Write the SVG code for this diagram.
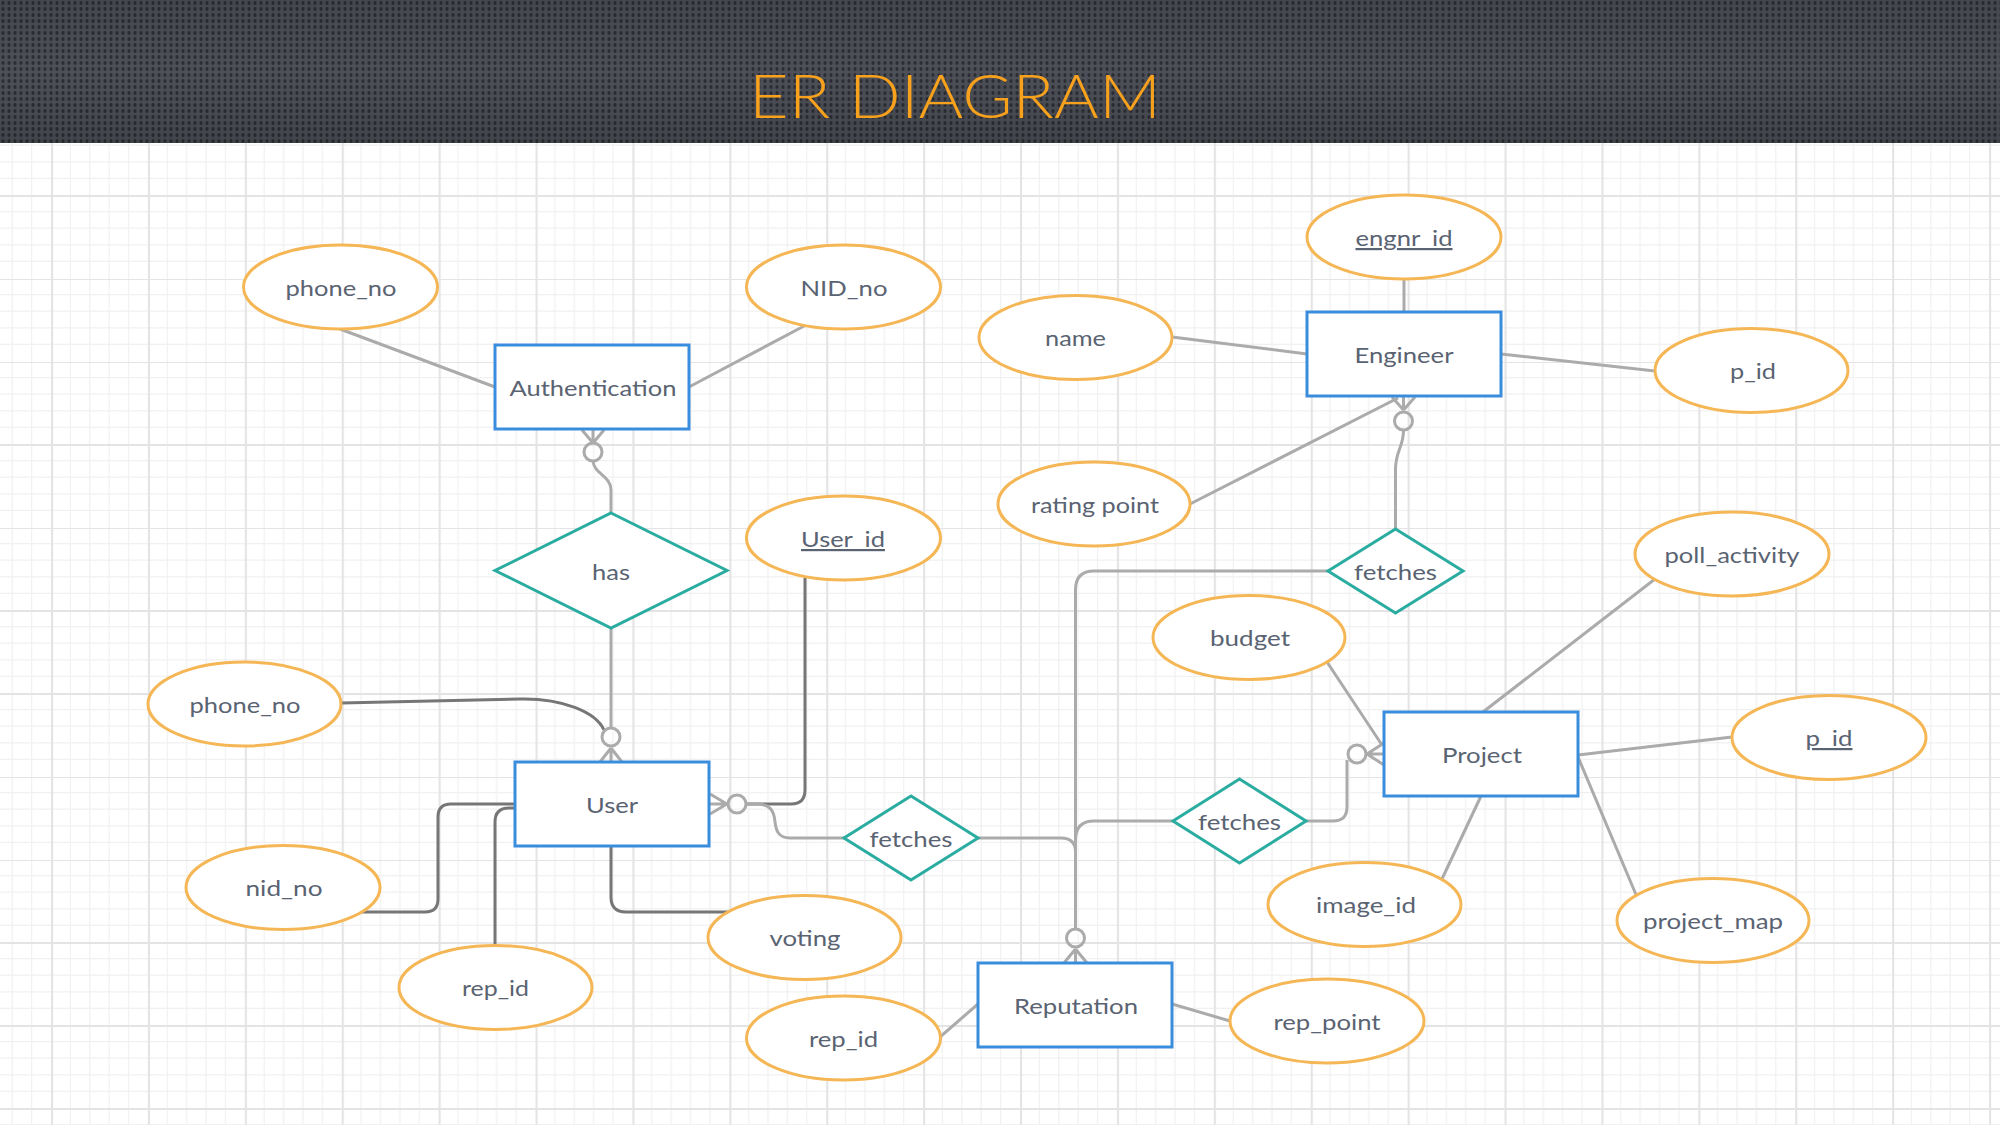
<svg xmlns="http://www.w3.org/2000/svg" width="2000" height="1125" viewBox="0 0 2000 1125">
<defs>
<pattern id="grid" patternUnits="userSpaceOnUse" x="51" y="195" width="96.9" height="83">
<rect width="96.9" height="83" fill="#ffffff"/>
<g stroke="#F1F1F1" stroke-width="1.2">
<line x1="19.38" y1="0" x2="19.38" y2="83"/><line x1="38.76" y1="0" x2="38.76" y2="83"/><line x1="58.14" y1="0" x2="58.14" y2="83"/><line x1="77.52" y1="0" x2="77.52" y2="83"/>
<line x1="0" y1="16.6" x2="96.9" y2="16.6"/><line x1="0" y1="33.2" x2="96.9" y2="33.2"/><line x1="0" y1="49.8" x2="96.9" y2="49.8"/><line x1="0" y1="66.4" x2="96.9" y2="66.4"/>
</g>
<g stroke="#E4E4E4" stroke-width="2.2">
<line x1="1" y1="0" x2="1" y2="83"/><line x1="0" y1="1" x2="96.9" y2="1"/>
</g>
</pattern>
<pattern id="dots" patternUnits="userSpaceOnUse" width="6" height="6">
<rect width="6" height="6" fill="#4D5058"/>
<ellipse cx="3" cy="3" rx="1.6" ry="2" fill="#2C2E33"/>
</pattern>
<linearGradient id="shade" x1="0" y1="0" x2="0" y2="1">
<stop offset="0" stop-color="#000" stop-opacity="0.12"/>
<stop offset="0.5" stop-color="#000" stop-opacity="0"/>
<stop offset="1" stop-color="#000" stop-opacity="0.15"/>
</linearGradient>
</defs>
<style>
.attr{fill:#fff;stroke:#F5B756;stroke-width:3}
.ent{fill:#fff;stroke:#3A8DDC;stroke-width:3}
.rel{fill:#fff;stroke:#2AACA0;stroke-width:3}
.ln{fill:none;stroke:#ABABAB;stroke-width:3}
.dk{fill:none;stroke:#767676;stroke-width:3}
.cf{fill:none;stroke:#ABABAB;stroke-width:3}
.t{font-family:Lato,'Liberation Sans',sans-serif;font-size:22px;fill:#5A6372;text-anchor:middle}
.u{text-decoration:underline}
.title{font-family:Lato,'Noto Sans','Liberation Sans',sans-serif;font-weight:300;font-size:62px;fill:#F7A11C}
</style>
<rect x="0" y="0" width="2000" height="1125" fill="url(#grid)"/>
<g id="header">
<rect x="0" y="0" width="2000" height="143" fill="url(#dots)"/>
<rect x="0" y="0" width="2000" height="143" fill="url(#shade)"/>
<text class="title" x="749" y="118" textLength="412" lengthAdjust="spacingAndGlyphs">ER DIAGRAM</text>
</g>
<g id="connectors">
<path class="ln" d="M340,329 L495,387"/>
<path class="ln" d="M689,387 L806,325"/>
<path class="ln" d="M611,513 L611,490 C611,476 594,474 593,461"/>
<circle class="cf" cx="593" cy="452" r="9"/>
<path class="cf" d="M593,443 L582,430 M593,443 L593,430 M593,443 L604,430"/>
<path class="ln" d="M611,628 L611,728"/>
<path class="dk" d="M341,703 L520,699 C562,698 596,712 604,730"/>
<circle class="cf" cx="611" cy="737" r="9"/>
<path class="cf" d="M611,748 L600,762 M611,748 L611,762 M611,748 L622,762"/>
<path class="dk" d="M805,578 L805,790 Q805,804 791,804 L746,804"/>
<path class="ln" d="M844,838 L790,838 C778,838 776,830 775,822 C774,810 770,805 758,804 L746,804"/>
<circle class="cf" cx="737" cy="804" r="9"/>
<path class="cf" d="M727,804 L710,794 M727,804 L710,804 M727,804 L710,814"/>
<path class="ln" d="M978,838 L1061,838 Q1075.5,838 1075.5,852"/>
<path class="ln" d="M1328,571 L1094,571 Q1075.5,571 1075.5,590 L1075.5,929"/>
<path class="ln" d="M1173,821 L1094,821 Q1075.5,821 1075.5,840"/>
<circle class="cf" cx="1075.5" cy="938" r="9"/>
<path class="cf" d="M1075.5,949 L1064,963 M1075.5,949 L1075.5,963 M1075.5,949 L1087,963"/>
<path class="ln" d="M1306,821 L1333,821 Q1347,821 1347,807 L1347,760"/>
<circle class="cf" cx="1357" cy="754" r="9"/>
<path class="cf" d="M1367,754 L1384,743 M1367,754 L1384,754 M1367,754 L1384,765"/>
<path class="ln" d="M1395.5,529 L1395.5,470 C1395.5,450 1403.5,448 1403.5,430"/>
<circle class="cf" cx="1403.5" cy="421" r="9"/>
<path class="cf" d="M1403.5,410 L1392,397 M1403.5,410 L1403.5,397 M1403.5,410 L1415,397"/>
<path class="ln" d="M1190,504 L1398,398"/>
<path class="ln" d="M1172,337 L1307,354"/>
<path class="ln" d="M1404,279 L1404,312"/>
<path class="ln" d="M1501,354 L1655,371"/>
<path class="ln" d="M1655,579 L1483,712"/>
<path class="ln" d="M1327,662 L1382,745"/>
<path class="ln" d="M1578,755 L1732,737"/>
<path class="ln" d="M1481,796 L1442,879"/>
<path class="ln" d="M1578,757 L1637,897"/>
<path class="ln" d="M1172,1004 L1230,1021"/>
<path class="ln" d="M978,1004 L940,1037"/>
<path class="dk" d="M360,912 L425,912 Q438,912 438,899 L438,817 Q438,804 451,804 L515,804"/>
<path class="dk" d="M495,946 L495,822 Q495,808 509,808 L515,808"/>
<path class="dk" d="M611,846 L611,897 Q611,912 626,912 L729,912"/>
</g>
<g id="authentication"><rect class="ent" x="495" y="345" width="194" height="84"/><text class="t" x="593" y="396" textLength="167" lengthAdjust="spacingAndGlyphs">Authentication</text></g>
<g id="engineer"><rect class="ent" x="1307" y="312" width="194" height="84"/><text class="t" x="1404" y="363" textLength="99" lengthAdjust="spacingAndGlyphs">Engineer</text></g>
<g id="user"><rect class="ent" x="515" y="762" width="194" height="84"/><text class="t" x="612" y="813" textLength="52" lengthAdjust="spacingAndGlyphs">User</text></g>
<g id="project"><rect class="ent" x="1384" y="712" width="194" height="84"/><text class="t" x="1482" y="763" textLength="80" lengthAdjust="spacingAndGlyphs">Project</text></g>
<g id="reputation"><rect class="ent" x="978" y="963" width="194" height="84"/><text class="t" x="1076" y="1014" textLength="124" lengthAdjust="spacingAndGlyphs">Reputation</text></g>
<g id="has"><polygon class="rel" points="611,513 727,570.5 611,628 495,570.5"/><text class="t" x="611" y="580" textLength="38" lengthAdjust="spacingAndGlyphs">has</text></g>
<g id="fetches-engineer"><polygon class="rel" points="1395.5,529 1463,571 1395.5,613 1328,571"/><text class="t" x="1395.5" y="580" textLength="83" lengthAdjust="spacingAndGlyphs">fetches</text></g>
<g id="fetches-user"><polygon class="rel" points="911,796 978,838 911,880 844,838"/><text class="t" x="911" y="847" textLength="83" lengthAdjust="spacingAndGlyphs">fetches</text></g>
<g id="fetches-project"><polygon class="rel" points="1239.5,779 1306,821 1239.5,863 1173,821"/><text class="t" x="1239.5" y="830" textLength="83" lengthAdjust="spacingAndGlyphs">fetches</text></g>
<g id="attr-auth-phone_no"><ellipse class="attr" cx="340.5" cy="287" rx="97" ry="42"/><text class="t" x="341" y="296" textLength="111" lengthAdjust="spacingAndGlyphs">phone_no</text></g>
<g id="attr-nid_no-auth"><ellipse class="attr" cx="843.5" cy="287" rx="97" ry="42"/><text class="t" x="844" y="296" textLength="87" lengthAdjust="spacingAndGlyphs">NID_no</text></g>
<g id="attr-user_id"><ellipse class="attr" cx="843.5" cy="538" rx="97" ry="42"/><text class="t u" x="843" y="547" textLength="84" lengthAdjust="spacingAndGlyphs">User_id</text></g>
<g id="attr-engnr_id"><ellipse class="attr" cx="1404" cy="237" rx="97" ry="42"/><text class="t u" x="1404" y="246" textLength="97" lengthAdjust="spacingAndGlyphs">engnr_id</text></g>
<g id="attr-name"><ellipse class="attr" cx="1075.5" cy="337.5" rx="96.5" ry="42"/><text class="t" x="1075.5" y="346" textLength="61" lengthAdjust="spacingAndGlyphs">name</text></g>
<g id="attr-eng-p_id"><ellipse class="attr" cx="1751.5" cy="370.5" rx="96.5" ry="42"/><text class="t" x="1753" y="379" textLength="46" lengthAdjust="spacingAndGlyphs">p_id</text></g>
<g id="attr-rating_point"><ellipse class="attr" cx="1094" cy="504" rx="96" ry="42"/><text class="t" x="1095" y="513" textLength="128" lengthAdjust="spacingAndGlyphs">rating point</text></g>
<g id="attr-poll_activity"><ellipse class="attr" cx="1732" cy="554" rx="97" ry="42"/><text class="t" x="1732" y="563" textLength="135" lengthAdjust="spacingAndGlyphs">poll_activity</text></g>
<g id="attr-budget"><ellipse class="attr" cx="1249" cy="637.5" rx="96" ry="42"/><text class="t" x="1250" y="646" textLength="80" lengthAdjust="spacingAndGlyphs">budget</text></g>
<g id="attr-proj-p_id"><ellipse class="attr" cx="1829" cy="737.5" rx="97" ry="42"/><text class="t u" x="1829" y="746" textLength="47" lengthAdjust="spacingAndGlyphs">p_id</text></g>
<g id="attr-image_id"><ellipse class="attr" cx="1364.5" cy="904.5" rx="96.5" ry="42"/><text class="t" x="1366" y="913" textLength="100" lengthAdjust="spacingAndGlyphs">image_id</text></g>
<g id="attr-project_map"><ellipse class="attr" cx="1713" cy="920.5" rx="96" ry="42"/><text class="t" x="1713" y="929" textLength="140" lengthAdjust="spacingAndGlyphs">project_map</text></g>
<g id="attr-rep_point"><ellipse class="attr" cx="1327" cy="1021" rx="97" ry="42"/><text class="t" x="1327" y="1030" textLength="107" lengthAdjust="spacingAndGlyphs">rep_point</text></g>
<g id="attr-user-phone_no"><ellipse class="attr" cx="244.5" cy="704" rx="96.5" ry="42"/><text class="t" x="245" y="713" textLength="111" lengthAdjust="spacingAndGlyphs">phone_no</text></g>
<g id="attr-user-nid_no"><ellipse class="attr" cx="283" cy="887.5" rx="97" ry="42"/><text class="t" x="284" y="896" textLength="77" lengthAdjust="spacingAndGlyphs">nid_no</text></g>
<g id="attr-user-rep_id"><ellipse class="attr" cx="495.5" cy="987.5" rx="96.5" ry="42"/><text class="t" x="495.5" y="996" textLength="67" lengthAdjust="spacingAndGlyphs">rep_id</text></g>
<g id="attr-voting"><ellipse class="attr" cx="804.5" cy="937.5" rx="96.5" ry="42"/><text class="t" x="805" y="946" textLength="71" lengthAdjust="spacingAndGlyphs">voting</text></g>
<g id="attr-rep-rep_id"><ellipse class="attr" cx="843.5" cy="1038" rx="97" ry="42"/><text class="t" x="843.5" y="1047" textLength="69" lengthAdjust="spacingAndGlyphs">rep_id</text></g>
</svg>
